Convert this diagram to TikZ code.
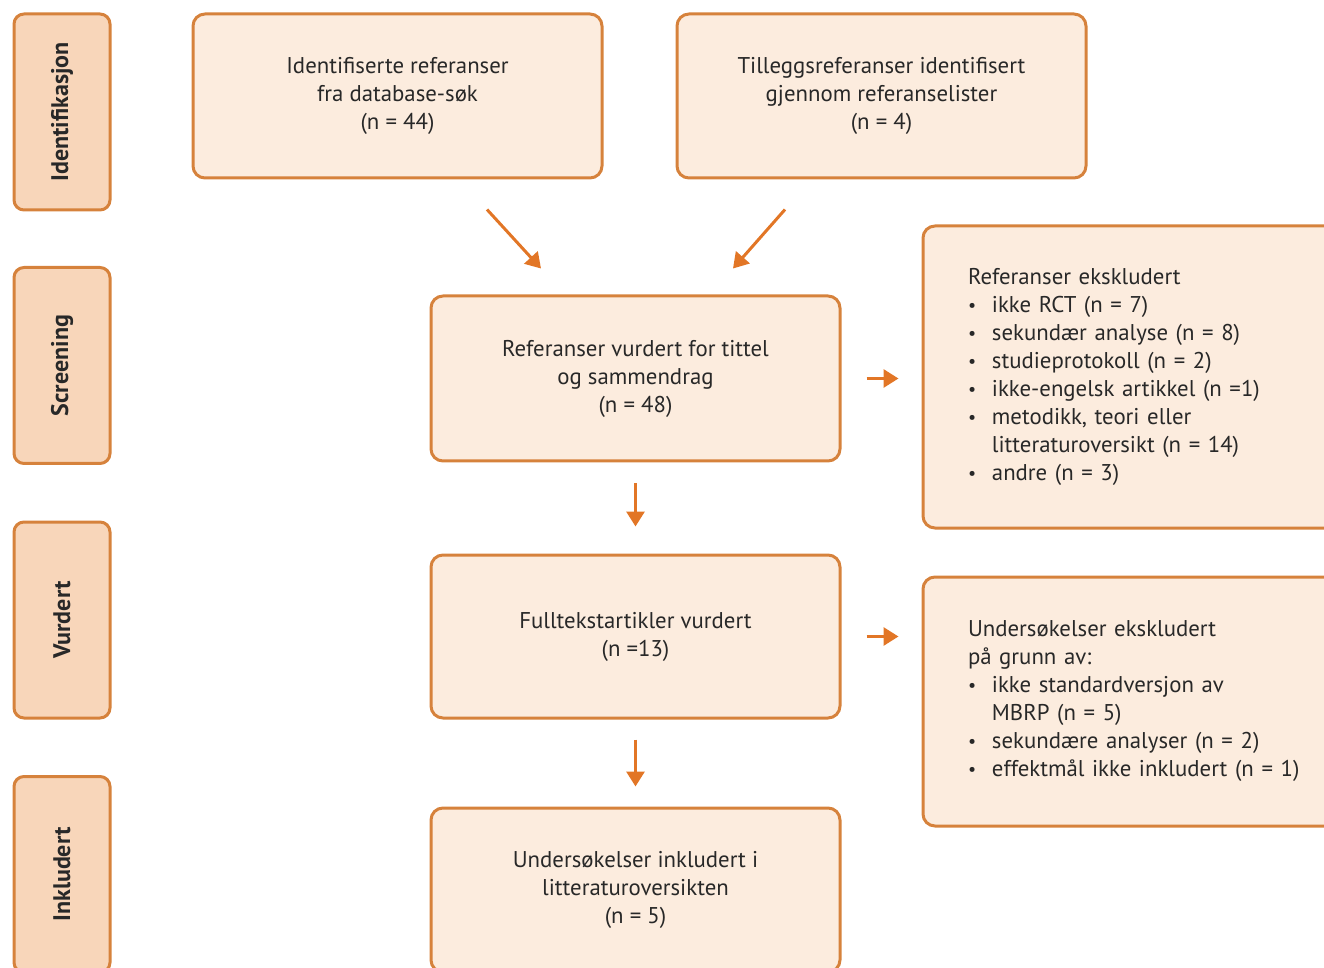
\documentclass[tikz,border=0pt]{standalone}
\usepackage{fontspec}
\setmainfont{PT Sans}
\usetikzlibrary{arrows.meta}

\definecolor{boxfill}{RGB}{252,236,222}
\definecolor{sidefill}{RGB}{248,214,186}
\definecolor{boxline}{RGB}{214,130,60}
\definecolor{arrowcol}{RGB}{226,118,38}
\definecolor{txt}{RGB}{40,40,40}

\newcommand{\bulitem}{\makebox[1.05em][l]{\raisebox{0.1ex}{\small\textbullet}}}
\newcommand{\bulcont}{\hspace*{1.05em}}

\begin{document}
\begin{tikzpicture}[x=0.5pt,y=-0.5pt,
  box/.style={draw=boxline, fill=boxfill, line width=1.5pt, rounded corners=6pt,
    minimum width=204.5pt, minimum height=82pt, align=center, text=txt,
    font=\fontsize{11.4}{14}\selectfont},
  exbox/.style={box, align=left, text width=185pt, minimum width=230pt, inner xsep=21.5pt},
  side/.style={draw=boxline, fill=sidefill, line width=1.5pt, rounded corners=5pt,
    rotate=90, minimum width=98pt, minimum height=48pt, text=txt,
    font=\fontsize{12}{14}\selectfont\bfseries},
  flow/.style={draw=arrowcol, line width=1.5pt, -{Triangle[width=9pt,length=7.5pt]}}]

\useasboundingbox (0,0) rectangle (1324,968);
\clip (0,0) rectangle (1324,968);

% Phase labels
\node[side] (ident) at (62,112) {Identifikasjon};
\node[side] (screening) at (62,365.5) {Screening};
\node[side] (vurdert) at (62,620) {Vurdert};
\node[side] (inkl) at (62,874.5) {Inkludert};

% Identification
\node[box] (dbsok) at (397.5,96) {Identifiserte referanser\\ fra database-søk\\ (n = 44)};
\node[box] (reflist) at (881.5,96) {Tilleggsreferanser identifisert\\ gjennom referanselister\\ (n = 4)};

% Screening
\node[box, minimum height=82.5pt] (screen) at (635.5,378.5) {Referanser vurdert for tittel\\ og sammendrag\\ (n = 48)};
\node[exbox, minimum height=151pt] (excl1) at (1153,377) {Referanser ekskludert\\
  \bulitem ikke RCT (n~=~7)\\
  \bulitem sekundær analyse (n~=~8)\\
  \bulitem studieprotokoll (n~=~2)\\
  \bulitem ikke-engelsk artikkel (n~=1)\\
  \bulitem metodikk, teori eller\\
  \bulcont litteraturoversikt (n~=~14)\\
  \bulitem andre (n~=~3)};

% Eligibility
\node[box, minimum height=81.5pt] (fulltext) at (635.5,636.5) {Fulltekstartikler vurdert\\ (n =13)};
\node[exbox, minimum height=124.5pt] (excl2) at (1153,701.5) {Undersøkelser ekskludert\\
  på grunn av:\\
  \bulitem ikke standardversjon av\\
  \bulcont MBRP (n~=~5)\\
  \bulitem sekundære analyser (n~=~2)\\
  \bulitem effektmål ikke inkludert (n~=~1)};

% Included
\node[box] (incl) at (635.5,890) {Undersøkelser inkludert i\\ litteraturoversikten\\ (n = 5)};

% Arrows
\draw[flow] ([shift={(89.5,30)}]dbsok.south) -- ([shift={(-94.5,-26)}]screen.north);
\draw[flow] ([shift={(-96.5,30)}]reflist.south) -- ([shift={(97.5,-26)}]screen.north);
\draw[flow, shorten <=12.5pt, shorten >=11.5pt] (screen.east) -- (screen.east -| excl1.west);
\draw[flow, shorten <=10.5pt, shorten >=13.5pt] (screen.south) -- (fulltext.north);
\draw[flow, shorten <=12.5pt, shorten >=11.5pt] (fulltext.east) -- (fulltext.east -| excl2.west);
\draw[flow, shorten <=10pt, shorten >=10pt] (fulltext.south) -- (incl.north);

\end{tikzpicture}
\end{document}
